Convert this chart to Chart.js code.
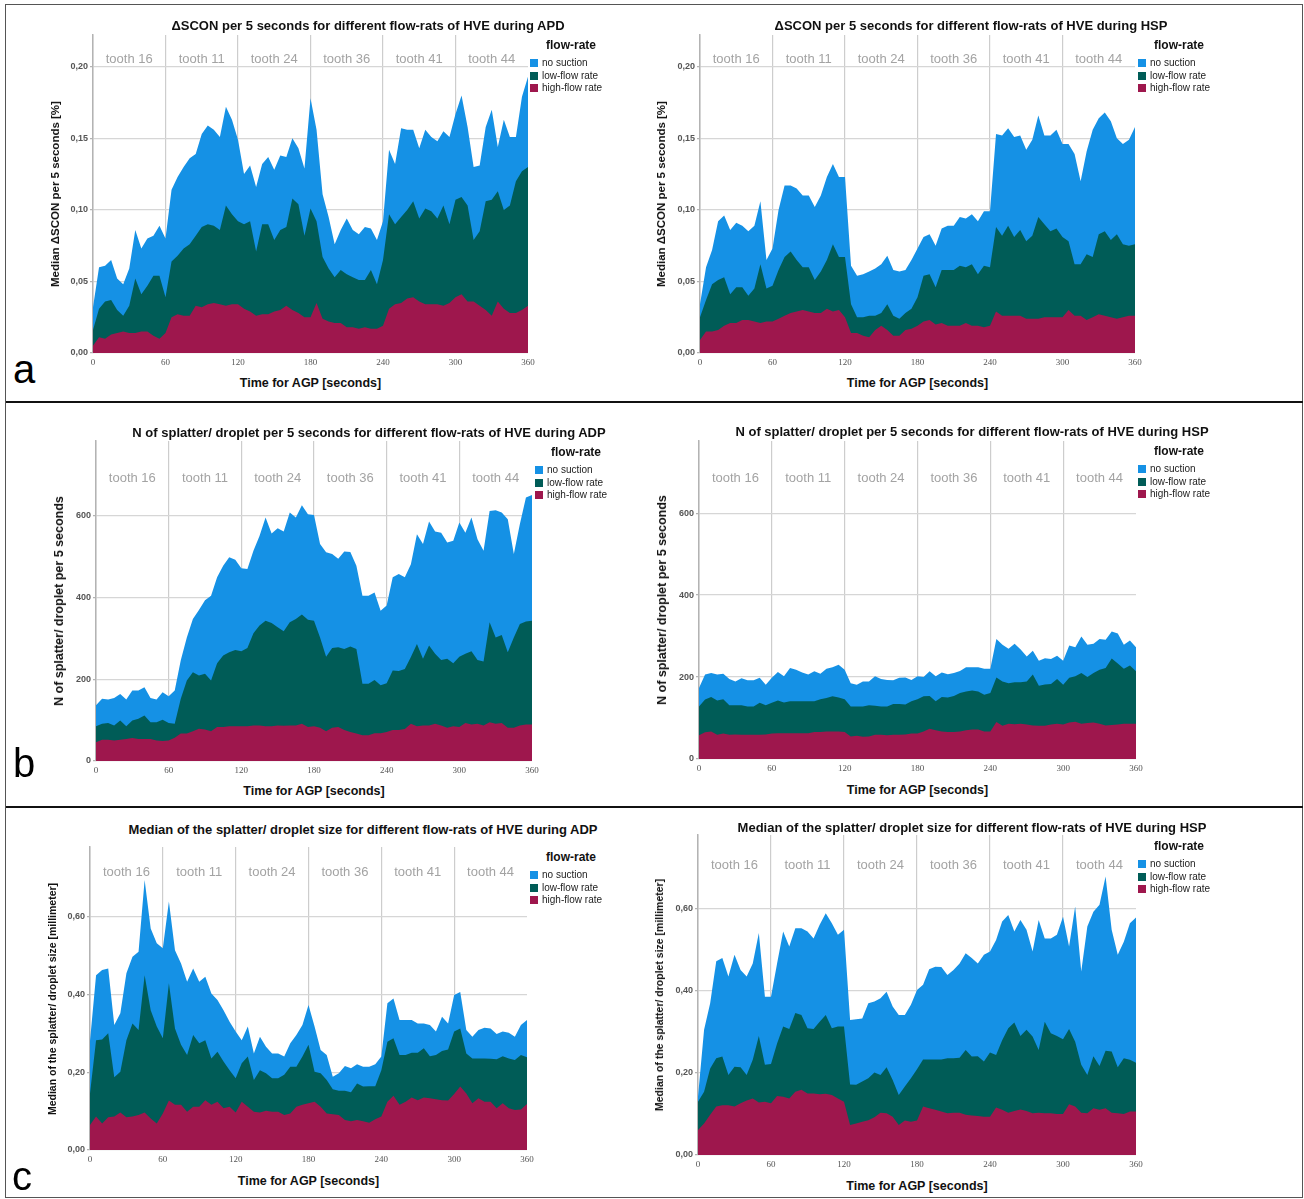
<!DOCTYPE html>
<html>
<head>
<meta charset="utf-8">
<script src="https://cdn.jsdelivr.net/npm/chart.js@4.4.1/dist/chart.umd.min.js"></script>
<style>
  html, body { margin: 0; padding: 0; background: #fff; }
  body { width: 1304px; height: 1199px; position: relative; overflow: hidden; font-family: 'Liberation Sans', Arial, sans-serif; color: #111; }
  .frame { position: absolute; left: 5px; top: 4px; width: 1298px; height: 1194px; border: 1.5px solid #555; box-sizing: border-box; }
  .rule { position: absolute; left: 6px; width: 1297px; height: 2px; background: #111; }
  .abs { position: absolute; white-space: nowrap; }
  .title { font-weight: bold; font-size: 13px; transform: translate(-50%, -50%); }
  .ytitle { font-weight: bold; font-size: 11px; transform: translate(-50%, -50%) rotate(-90deg); }
  .xtitle { font-weight: bold; font-size: 12.5px; transform: translate(-50%, -50%); }
  .letter { font-size: 40px; line-height: 40px; color: #000; }
  .lgtitle { font-weight: bold; font-size: 12px; transform: translate(-50%, -50%); }
  .lgitem { font-size: 10px; color: #222; line-height: 12px; transform: translateY(-50%); }
  .lgitem i { display: inline-block; width: 8px; height: 8px; margin-right: 4px; vertical-align: -1px; }
  canvas { position: absolute; }
</style>
</head>
<body>
<div class="frame"></div>
<div class="rule" style="top:401px"></div>
<div class="rule" style="top:806px"></div>
<script>
// time axis (seconds) and labels
const seconds = [
  0, 5, 10, 15, 20, 25, 30, 35, 40, 45, 50, 55, 60,
  65, 70, 75, 80, 85, 90, 95, 100, 105, 110, 115, 120,
  125, 130, 135, 140, 145, 150, 155, 160, 165, 170, 175, 180,
  185, 190, 195, 200, 205, 210, 215, 220, 225, 230, 235, 240,
  245, 250, 255, 260, 265, 270, 275, 280, 285, 290, 295, 300,
  305, 310, 315, 320, 325, 330, 335, 340, 345, 350, 355, 360
];
const timeTicks = [0, 60, 120, 180, 240, 300, 360];
const teeth = ['tooth 16', 'tooth 11', 'tooth 24', 'tooth 36', 'tooth 41', 'tooth 44'];
const seriesNames = ['no suction', 'low-flow rate', 'high-flow rate'];
const seriesColors = ['#1591e5', '#005c57', '#9e174d'];

const sconTicks = [0, 0.05, 0.10, 0.15, 0.20];
const countTicks = [0, 200, 400, 600];
const sizeTicks = [0, 0.20, 0.40, 0.60];

// a: delta SCON, APD
const sconApdNone = [
  0.032, 0.060, 0.061, 0.065, 0.052, 0.048, 0.059, 0.086, 0.073, 0.080, 0.082, 0.089, 0.080,
  0.114, 0.123, 0.130, 0.136, 0.139, 0.153, 0.159, 0.156, 0.151, 0.172, 0.163, 0.149,
  0.125, 0.131, 0.116, 0.132, 0.137, 0.128, 0.138, 0.137, 0.150, 0.143, 0.129, 0.178,
  0.156, 0.111, 0.095, 0.076, 0.086, 0.094, 0.086, 0.083, 0.088, 0.087, 0.079, 0.092,
  0.142, 0.132, 0.157, 0.156, 0.156, 0.143, 0.156, 0.151, 0.148, 0.155, 0.151, 0.167,
  0.180, 0.158, 0.130, 0.131, 0.158, 0.170, 0.144, 0.163, 0.151, 0.151, 0.179, 0.193
];
const sconApdLow = [
  0.016, 0.031, 0.036, 0.037, 0.030, 0.026, 0.033, 0.052, 0.041, 0.047, 0.054, 0.054, 0.039,
  0.064, 0.068, 0.073, 0.076, 0.082, 0.088, 0.090, 0.089, 0.086, 0.103, 0.097, 0.092,
  0.090, 0.092, 0.071, 0.090, 0.090, 0.079, 0.086, 0.088, 0.108, 0.104, 0.082, 0.101,
  0.092, 0.067, 0.059, 0.053, 0.058, 0.055, 0.053, 0.051, 0.051, 0.058, 0.048, 0.065,
  0.097, 0.090, 0.095, 0.100, 0.106, 0.094, 0.101, 0.099, 0.094, 0.103, 0.090, 0.107,
  0.109, 0.103, 0.079, 0.085, 0.106, 0.107, 0.113, 0.100, 0.103, 0.120, 0.127, 0.130
];
const sconApdHigh = [
  0.005, 0.011, 0.010, 0.013, 0.014, 0.015, 0.014, 0.014, 0.015, 0.015, 0.012, 0.010, 0.014,
  0.025, 0.027, 0.026, 0.026, 0.033, 0.032, 0.034, 0.035, 0.034, 0.033, 0.034, 0.034,
  0.031, 0.029, 0.026, 0.027, 0.027, 0.029, 0.030, 0.033, 0.030, 0.028, 0.025, 0.025,
  0.035, 0.024, 0.022, 0.021, 0.021, 0.018, 0.018, 0.017, 0.018, 0.017, 0.017, 0.019,
  0.031, 0.034, 0.035, 0.038, 0.039, 0.036, 0.034, 0.034, 0.034, 0.033, 0.035, 0.039,
  0.041, 0.036, 0.036, 0.033, 0.030, 0.026, 0.036, 0.031, 0.028, 0.028, 0.030, 0.033
];

// a: delta SCON, HSP
const sconHspNone = [
  0.034, 0.060, 0.072, 0.092, 0.096, 0.086, 0.091, 0.089, 0.085, 0.089, 0.106, 0.065, 0.073,
  0.100, 0.117, 0.117, 0.115, 0.110, 0.110, 0.102, 0.110, 0.123, 0.132, 0.123, 0.123,
  0.061, 0.054, 0.055, 0.057, 0.059, 0.062, 0.068, 0.058, 0.057, 0.058, 0.065, 0.073,
  0.081, 0.083, 0.075, 0.087, 0.089, 0.089, 0.095, 0.094, 0.097, 0.092, 0.099, 0.099,
  0.153, 0.152, 0.157, 0.151, 0.152, 0.142, 0.149, 0.166, 0.152, 0.152, 0.156, 0.146,
  0.146, 0.139, 0.120, 0.141, 0.156, 0.164, 0.168, 0.162, 0.150, 0.146, 0.149, 0.158
];
const sconHspLow = [
  0.025, 0.037, 0.048, 0.051, 0.053, 0.041, 0.046, 0.046, 0.040, 0.045, 0.062, 0.045, 0.047,
  0.058, 0.067, 0.071, 0.065, 0.060, 0.060, 0.051, 0.057, 0.065, 0.076, 0.067, 0.067,
  0.034, 0.025, 0.025, 0.026, 0.026, 0.028, 0.034, 0.026, 0.024, 0.028, 0.031, 0.039,
  0.054, 0.055, 0.046, 0.058, 0.058, 0.058, 0.061, 0.060, 0.062, 0.055, 0.061, 0.060,
  0.088, 0.082, 0.089, 0.081, 0.086, 0.078, 0.082, 0.095, 0.090, 0.085, 0.087, 0.081,
  0.078, 0.062, 0.062, 0.069, 0.067, 0.083, 0.085, 0.079, 0.083, 0.076, 0.075, 0.076
];
const sconHspHigh = [
  0.009, 0.015, 0.015, 0.016, 0.019, 0.021, 0.021, 0.023, 0.023, 0.022, 0.021, 0.022, 0.022,
  0.024, 0.026, 0.028, 0.029, 0.030, 0.029, 0.028, 0.028, 0.031, 0.029, 0.030, 0.025,
  0.014, 0.014, 0.012, 0.011, 0.016, 0.019, 0.016, 0.012, 0.012, 0.016, 0.017, 0.019,
  0.022, 0.023, 0.020, 0.021, 0.019, 0.019, 0.019, 0.021, 0.019, 0.019, 0.018, 0.019,
  0.029, 0.026, 0.026, 0.026, 0.026, 0.024, 0.024, 0.024, 0.025, 0.025, 0.025, 0.025,
  0.030, 0.026, 0.026, 0.023, 0.025, 0.027, 0.026, 0.025, 0.024, 0.025, 0.026, 0.026
];

// b: number of splatter/droplets, ADP
const countAdpNone = [
  136, 152, 150, 154, 164, 150, 172, 172, 180, 154, 150, 168, 158,
  172, 246, 302, 347, 369, 393, 404, 449, 477, 498, 492, 471,
  469, 514, 550, 595, 556, 569, 561, 607, 595, 625, 603, 601,
  530, 510, 506, 494, 512, 511, 477, 404, 404, 412, 367, 380,
  449, 457, 449, 481, 554, 530, 585, 561, 558, 534, 538, 583,
  558, 595, 542, 514, 611, 613, 607, 591, 506, 579, 644, 650
];
const countAdpLow = [
  85, 91, 93, 87, 99, 85, 99, 103, 111, 95, 95, 101, 93,
  91, 152, 197, 217, 209, 213, 197, 239, 258, 266, 271, 268,
  276, 312, 331, 343, 337, 327, 317, 339, 347, 358, 345, 343,
  302, 255, 276, 278, 274, 280, 274, 189, 189, 198, 185, 190,
  221, 220, 225, 254, 286, 250, 282, 262, 247, 250, 239, 255,
  262, 268, 247, 243, 339, 302, 308, 266, 302, 335, 341, 343
];
const countAdpHigh = [
  46, 52, 52, 50, 52, 54, 56, 54, 54, 54, 50, 49, 50,
  57, 67, 67, 73, 79, 77, 73, 83, 83, 85, 85, 85,
  85, 87, 87, 85, 85, 87, 86, 87, 87, 91, 83, 85,
  81, 73, 81, 83, 76, 71, 67, 63, 63, 68, 68, 71,
  76, 76, 78, 91, 85, 87, 87, 91, 87, 81, 85, 83,
  93, 89, 91, 87, 95, 91, 93, 81, 81, 87, 89, 89
];

// b: number of splatter/droplets, HSP
const countHspNone = [
  173, 206, 210, 206, 208, 195, 189, 197, 192, 192, 198, 181, 198,
  212, 202, 222, 218, 211, 206, 214, 208, 220, 224, 230, 218,
  185, 181, 189, 189, 202, 195, 193, 192, 198, 199, 193, 202,
  200, 214, 202, 211, 207, 210, 215, 224, 224, 224, 220, 220,
  293, 279, 269, 281, 267, 250, 264, 240, 246, 244, 252, 240,
  277, 273, 299, 279, 281, 293, 291, 311, 306, 279, 289, 273
];
const countHspLow = [
  128, 145, 151, 143, 146, 131, 131, 131, 128, 128, 137, 131, 137,
  143, 138, 141, 141, 141, 141, 141, 146, 149, 153, 150, 146,
  128, 128, 128, 131, 130, 128, 128, 134, 134, 133, 141, 146,
  153, 154, 141, 151, 150, 154, 161, 165, 167, 165, 157, 161,
  199, 189, 185, 187, 187, 189, 206, 179, 182, 183, 195, 181,
  198, 202, 210, 200, 210, 218, 222, 245, 233, 220, 228, 214
];
const countHspHigh = [
  58, 65, 67, 59, 62, 59, 60, 59, 59, 59, 59, 60, 62,
  63, 63, 63, 63, 63, 63, 66, 66, 67, 67, 67, 66,
  55, 57, 54, 55, 59, 59, 58, 59, 59, 60, 62, 62,
  67, 74, 70, 67, 66, 66, 67, 70, 72, 72, 67, 67,
  90, 81, 86, 85, 86, 84, 82, 81, 81, 84, 86, 84,
  89, 91, 86, 88, 89, 86, 82, 83, 84, 86, 86, 86
];

// c: median splatter/droplet size, ADP
const sizeAdpNone = [
  0.280, 0.449, 0.462, 0.466, 0.321, 0.351, 0.454, 0.496, 0.509, 0.693, 0.569, 0.531, 0.518,
  0.638, 0.513, 0.479, 0.432, 0.466, 0.432, 0.445, 0.402, 0.385, 0.359, 0.329, 0.304,
  0.282, 0.317, 0.248, 0.291, 0.265, 0.248, 0.248, 0.240, 0.274, 0.295, 0.321, 0.372,
  0.317, 0.257, 0.244, 0.188, 0.197, 0.216, 0.210, 0.220, 0.214, 0.214, 0.220, 0.240,
  0.377, 0.389, 0.334, 0.334, 0.334, 0.325, 0.325, 0.321, 0.304, 0.342, 0.325, 0.398,
  0.406, 0.308, 0.291, 0.308, 0.314, 0.312, 0.298, 0.304, 0.301, 0.291, 0.321, 0.334
];
const sizeAdpLow = [
  0.145, 0.282, 0.284, 0.300, 0.187, 0.201, 0.282, 0.325, 0.308, 0.449, 0.359, 0.317, 0.287,
  0.428, 0.312, 0.270, 0.244, 0.295, 0.274, 0.282, 0.235, 0.252, 0.227, 0.205, 0.184,
  0.223, 0.240, 0.180, 0.205, 0.197, 0.184, 0.184, 0.193, 0.214, 0.214, 0.240, 0.270,
  0.201, 0.197, 0.180, 0.156, 0.152, 0.152, 0.148, 0.171, 0.163, 0.164, 0.164, 0.205,
  0.278, 0.287, 0.244, 0.244, 0.250, 0.250, 0.261, 0.241, 0.244, 0.254, 0.258, 0.304,
  0.312, 0.248, 0.235, 0.235, 0.235, 0.234, 0.233, 0.241, 0.235, 0.231, 0.244, 0.238
];
const sizeAdpHigh = [
  0.064, 0.086, 0.068, 0.084, 0.086, 0.096, 0.084, 0.086, 0.090, 0.096, 0.081, 0.068, 0.094,
  0.127, 0.116, 0.116, 0.098, 0.111, 0.111, 0.128, 0.116, 0.124, 0.107, 0.111, 0.096,
  0.124, 0.111, 0.098, 0.096, 0.101, 0.098, 0.098, 0.090, 0.094, 0.111, 0.116, 0.120,
  0.124, 0.111, 0.094, 0.092, 0.090, 0.077, 0.074, 0.077, 0.074, 0.070, 0.079, 0.086,
  0.124, 0.139, 0.116, 0.124, 0.135, 0.128, 0.135, 0.133, 0.130, 0.128, 0.127, 0.144,
  0.163, 0.145, 0.120, 0.133, 0.124, 0.124, 0.107, 0.120, 0.107, 0.103, 0.104, 0.118
];

// c: median splatter/droplet size, HSP
const sizeHspNone = [
  0.142, 0.305, 0.370, 0.472, 0.480, 0.435, 0.488, 0.451, 0.435, 0.467, 0.541, 0.386, 0.386,
  0.467, 0.545, 0.508, 0.553, 0.553, 0.545, 0.528, 0.561, 0.589, 0.565, 0.537, 0.549,
  0.329, 0.331, 0.333, 0.370, 0.374, 0.382, 0.398, 0.362, 0.341, 0.341, 0.366, 0.402,
  0.415, 0.453, 0.459, 0.458, 0.439, 0.451, 0.467, 0.492, 0.480, 0.467, 0.488, 0.496,
  0.524, 0.569, 0.585, 0.545, 0.573, 0.549, 0.496, 0.573, 0.528, 0.528, 0.537, 0.581,
  0.508, 0.606, 0.447, 0.557, 0.593, 0.610, 0.679, 0.549, 0.488, 0.520, 0.565, 0.579
];
const sizeHspLow = [
  0.130, 0.154, 0.211, 0.236, 0.240, 0.195, 0.215, 0.214, 0.195, 0.232, 0.290, 0.220, 0.222,
  0.272, 0.313, 0.307, 0.346, 0.341, 0.309, 0.307, 0.325, 0.341, 0.309, 0.313, 0.313,
  0.172, 0.171, 0.179, 0.187, 0.201, 0.195, 0.214, 0.183, 0.146, 0.167, 0.187, 0.209,
  0.233, 0.233, 0.233, 0.233, 0.236, 0.236, 0.237, 0.256, 0.240, 0.241, 0.228, 0.250,
  0.244, 0.280, 0.309, 0.323, 0.290, 0.305, 0.289, 0.256, 0.325, 0.297, 0.290, 0.282,
  0.307, 0.276, 0.220, 0.195, 0.241, 0.217, 0.254, 0.252, 0.214, 0.236, 0.232, 0.225
];
const sizeHspHigh = [
  0.061, 0.077, 0.098, 0.118, 0.121, 0.121, 0.118, 0.126, 0.133, 0.138, 0.128, 0.130, 0.126,
  0.144, 0.142, 0.138, 0.154, 0.159, 0.150, 0.150, 0.148, 0.149, 0.146, 0.138, 0.130,
  0.073, 0.077, 0.081, 0.085, 0.092, 0.103, 0.102, 0.093, 0.073, 0.084, 0.081, 0.084,
  0.118, 0.114, 0.110, 0.106, 0.102, 0.103, 0.103, 0.098, 0.096, 0.095, 0.093, 0.093,
  0.116, 0.110, 0.103, 0.107, 0.111, 0.107, 0.102, 0.103, 0.102, 0.102, 0.100, 0.100,
  0.124, 0.118, 0.103, 0.102, 0.114, 0.110, 0.114, 0.103, 0.102, 0.100, 0.106, 0.106
];

const AXIS_W = 50, AXIS_H = 18, PAD_T = 6, PAD_R = 14;

// plot: [left, top, right, bottom] of the plotting area on the page
const panels = [
  { title: 'ΔSCON per 5 seconds for different flow-rats of HVE during APD', titleX: 368, titleY: 25,
    yTitle: 'Median  ΔSCON per 5 seconds [%]', yTitleX: 55, yTitleSize: 11.5, xTitleY: 383,
    plot: [93, 35, 528, 353], yMax: 0.2222, yTicks: sconTicks, decimals: 2, toothDy: 24,
    legend: [571, 45, 530, 63], series: [sconApdNone, sconApdLow, sconApdHigh] },
  { title: 'ΔSCON per 5 seconds for different flow-rats of HVE during HSP', titleX: 971, titleY: 25,
    yTitle: 'Median  ΔSCON per 5 seconds [%]', yTitleX: 661, yTitleSize: 11.5, xTitleY: 383,
    plot: [700, 35, 1135, 353], yMax: 0.2222, yTicks: sconTicks, decimals: 2, toothDy: 24,
    legend: [1179, 45, 1138, 63], series: [sconHspNone, sconHspLow, sconHspHigh] },
  { title: 'N of splatter/ droplet per 5 seconds for different flow-rats of HVE during ADP', titleX: 369, titleY: 432,
    yTitle: 'N of splatter/ droplet per 5 seconds', yTitleX: 59, yTitleSize: 12.5, xTitleY: 791,
    plot: [96, 441, 532, 761], yMax: 782, yTicks: countTicks, decimals: 0, toothDy: 37,
    legend: [576, 452, 535, 470], series: [countAdpNone, countAdpLow, countAdpHigh] },
  { title: 'N of splatter/ droplet per 5 seconds for different flow-rats of HVE during HSP', titleX: 972, titleY: 431,
    yTitle: 'N of splatter/ droplet per 5 seconds', yTitleX: 662, yTitleSize: 12.5, xTitleY: 790,
    plot: [699, 441, 1136, 759], yMax: 776, yTicks: countTicks, decimals: 0, toothDy: 37,
    legend: [1179, 451, 1138, 469], series: [countHspNone, countHspLow, countHspHigh] },
  { title: 'Median of the splatter/ droplet size for different flow-rats of HVE during ADP', titleX: 363, titleY: 829,
    yTitle: 'Median of the splatter/ droplet size [millimeter]', yTitleX: 52, yTitleSize: 10.5, xTitleY: 1181,
    plot: [90, 847, 527, 1150], yMax: 0.778, yTicks: sizeTicks, decimals: 2, toothDy: 25,
    legend: [571, 857, 530, 875], series: [sizeAdpNone, sizeAdpLow, sizeAdpHigh] },
  { title: 'Median of the splatter/ droplet size for different flow-rats of HVE during HSP', titleX: 972, titleY: 827,
    yTitle: 'Median of the splatter/ droplet size [millimeter]', yTitleX: 659, yTitleSize: 10.5, xTitleY: 1186,
    plot: [698, 835, 1136, 1155], yMax: 0.780, yTicks: sizeTicks, decimals: 2, toothDy: 30,
    legend: [1179, 846, 1138, 864], series: [sizeHspNone, sizeHspLow, sizeHspHigh] }
];

const rowLetters = [['a', 13, 349], ['b', 13, 743], ['c', 12, 1156]];

function addText(cls, text, x, y) {
  const el = document.createElement('div');
  el.className = 'abs ' + cls;
  el.textContent = text;
  el.style.left = x + 'px';
  el.style.top = y + 'px';
  document.body.appendChild(el);
  return el;
}

// tooth names above each 60 s block
const toothLabels = {
  id: 'toothLabels',
  beforeDatasetsDraw(chart, args, opts) {
    const { ctx, chartArea, scales } = chart;
    ctx.save();
    ctx.font = "13px 'Liberation Sans', Arial, sans-serif";
    ctx.fillStyle = '#a3a3a3';
    ctx.textAlign = 'center';
    ctx.textBaseline = 'middle';
    teeth.forEach((name, i) => {
      ctx.fillText(name, scales.x.getPixelForValue(timeTicks[i] + 30), chartArea.top + opts.dy);
    });
    ctx.restore();
  }
};

Chart.defaults.font.family = "'Liberation Sans', Arial, sans-serif";

panels.forEach(p => {
  const [L, T, R, B] = p.plot;
  const canvas = document.createElement('canvas');
  canvas.width = R - L + AXIS_W + PAD_R;
  canvas.height = B - T + PAD_T + AXIS_H;
  canvas.style.left = (L - AXIS_W) + 'px';
  canvas.style.top = (T - PAD_T) + 'px';
  document.body.appendChild(canvas);

  new Chart(canvas, {
    type: 'line',
    data: {
      datasets: seriesNames.map((name, k) => ({
        label: name,
        data: seconds.map((t, i) => ({ x: t, y: p.series[k][i] })),
        backgroundColor: seriesColors[k],
        borderColor: seriesColors[k],
        borderWidth: 0,
        pointRadius: 0,
        tension: 0,
        fill: 'origin',
        order: 3 - k
      }))
    },
    options: {
      responsive: false,
      animation: false,
      events: [],
      layout: { padding: { top: PAD_T, right: PAD_R, left: 0, bottom: 0 } },
      plugins: {
        legend: { display: false },
        tooltip: { enabled: false },
        toothLabels: { dy: p.toothDy }
      },
      scales: {
        x: {
          type: 'linear', min: 0, max: 360,
          afterBuildTicks: s => { s.ticks = timeTicks.map(v => ({ value: v })); },
          afterFit: s => { s.height = AXIS_H; s.paddingLeft = 0; s.paddingRight = 0; },
          border: { display: false },
          grid: {
            color: c => (c.tick && c.tick.value === 360) ? 'rgba(0,0,0,0)' : '#cdcdcd',
            lineWidth: 1.2, drawTicks: false
          },
          ticks: { font: { family: "'Liberation Serif', serif", size: 9 }, color: '#555', padding: 4, maxRotation: 0, autoSkip: false }
        },
        y: {
          min: 0, max: p.yMax,
          afterBuildTicks: s => { s.ticks = p.yTicks.map(v => ({ value: v })); },
          afterFit: s => { s.width = AXIS_W; s.paddingTop = 0; s.paddingBottom = 0; },
          border: { display: true, color: '#b3b3b3', width: 1.5 },
          grid: { color: '#d6d6d6', lineWidth: 1.2, tickLength: 3, tickColor: '#b3b3b3' },
          ticks: {
            font: { size: 9, weight: 'bold' }, color: '#555', padding: 2,
            callback: v => p.decimals ? v.toFixed(p.decimals).replace('.', ',') : String(v)
          }
        }
      }
    },
    plugins: [toothLabels]
  });

  addText('title', p.title, p.titleX, p.titleY);
  addText('ytitle', p.yTitle, p.yTitleX, (T + B) / 2).style.fontSize = p.yTitleSize + 'px';
  addText('xtitle', 'Time for AGP [seconds]', (L + R) / 2, p.xTitleY);

  const [lx, ly, sx, sy] = p.legend;
  addText('lgtitle', 'flow-rate', lx, ly);
  seriesNames.forEach((name, k) => {
    const el = addText('lgitem', name, sx, sy + k * 12.5);
    const sw = document.createElement('i');
    sw.style.background = seriesColors[k];
    el.prepend(sw);
  });
});

rowLetters.forEach(([t, x, y]) => addText('letter', t, x, y));
</script>
</body>
</html>
